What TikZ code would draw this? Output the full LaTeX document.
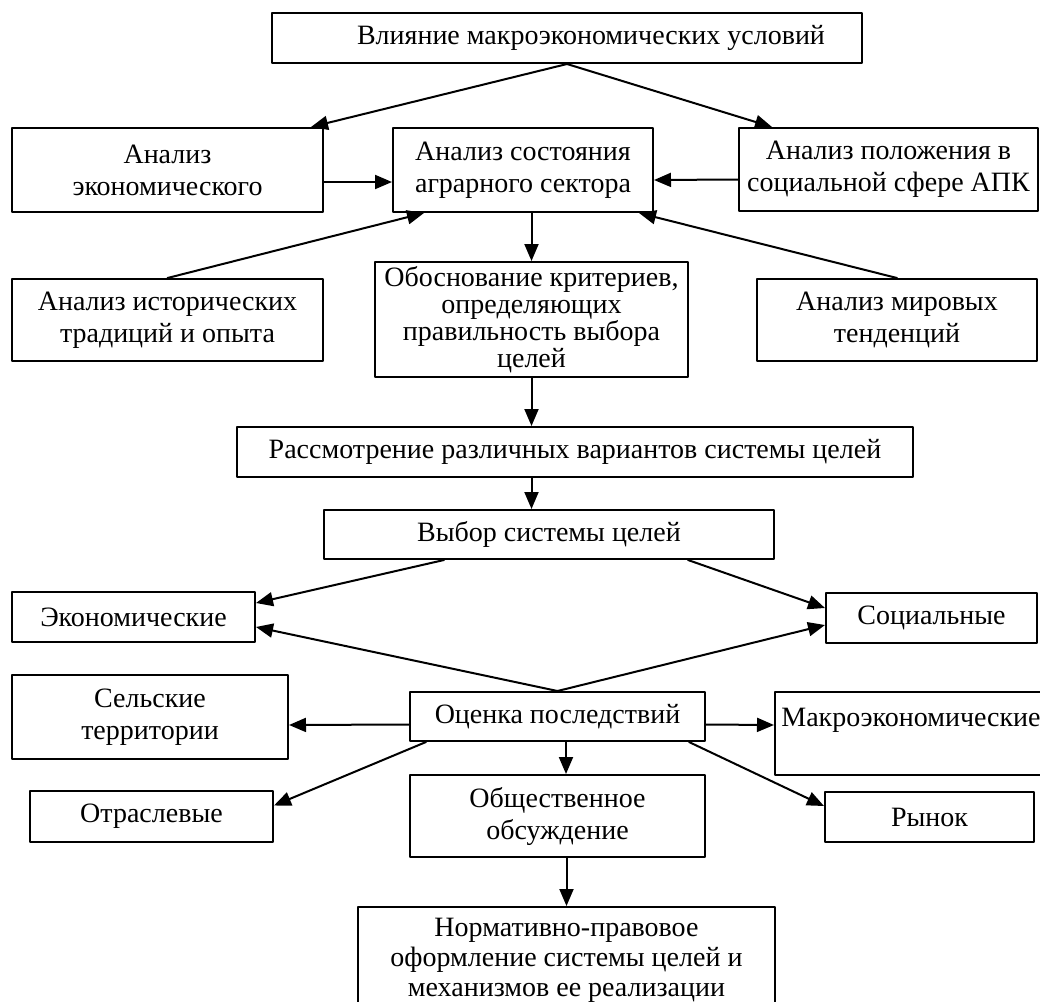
\documentclass[tikz,border=0pt]{standalone}
\usepackage{fontspec}
\setmainfont{Liberation Serif}
\usepackage{xcolor}
\usepackage{tikz}
\usetikzlibrary{shapes.geometric, arrows.meta}
\tikzstyle{box} = [draw, line width=1pt, align=center, inner sep=2pt, font=\fontsize{14}{16}\selectfont]
\tikzstyle{arrow} = [line width=1pt,-{Triangle[length=8.5pt,width=7pt]}]

\begin{document}
\begin{tikzpicture}[line cap=round,line join=round,x=0.5pt,y=-0.5pt]
    \useasboundingbox (0,0) rectangle (1040,1002);
    \node[box, minimum width=295pt, minimum height=25pt] (vlij) at (567,38) {\hspace*{24pt}Влияние макроэкономических условий};
    \node[box, minimum width=155.5pt, minimum height=42pt] (econ) at (167.5,170) {Анализ\\экономического};
    \node[box, minimum width=130pt, minimum height=42pt] (agr) at (523,170) {Анализ состояния\\аграрного сектора};
    \node[box, minimum width=149.5pt, minimum height=41.5pt] (soc) at (888.5,169.5) {Анализ положения в\\социальной сфере АПК};
    \node[box, minimum width=155.5pt, minimum height=41pt] (hist) at (167.5,320) {Анализ исторических\\традиций и опыта};
    \node[box, minimum width=156.5pt, minimum height=57.5pt, font=\fontsize{14}{13.5}\selectfont] (obosn) at (531.5,319.5) {Обоснование критериев,\\определяющих\\правильность выбора\\целей};
    \node[box, minimum width=140pt, minimum height=41pt] (mir) at (897,320) {Анализ мировых\\тенденций};
    \node[box, minimum width=338pt, minimum height=25pt] (rassm) at (575,452) {Рассмотрение различных вариантов системы целей};
    \node[box, minimum width=225pt, minimum height=24.5pt] (vybor) at (549,534.5) {Выбор системы целей};
    \node[box, minimum width=121.5pt, minimum height=25pt] (ekon) at (133.5,617) {Экономические};
    \node[box, minimum width=105.5pt, minimum height=25pt] (socz) at (931.5,618) {Социальные};
    \node[box, minimum width=138pt, minimum height=42pt] (selsk) at (150,717) {Сельские\\территории};
    \node[box, minimum width=147.5pt, minimum height=24.5pt] (ocenka) at (557.5,716.5) {Оценка последствий};
    \node[box, minimum width=136pt, minimum height=41.5pt] (makro) at (911,733.5) {Макроэкономические\\~};
    \node[box, minimum width=121.5pt, minimum height=25.5pt] (otrasl) at (151.5,816) {Отраслевые};
    \node[box, minimum width=104.5pt, minimum height=25pt] (rynok) at (929.5,817) {Рынок};
    \node[box, minimum width=147.5pt, minimum height=41pt] (obsch) at (557.5,816) {Общественное\\обсуждение};
    \node[box, minimum width=208.5pt, minimum height=53pt, font=\fontsize{14}{15}\selectfont] (norm) at (566.5,960) {Нормативно-правовое\\оформление системы целей и\\механизмов ее реализации};
    \draw[arrow] (vlij.south) -- ([xshift=-6.5pt]econ.north east);
    \draw[arrow] (vlij.south) -- ([xshift=17pt]soc.north west);
    \draw[arrow] ([yshift=-6pt]econ.east) -- ([yshift=-6pt]agr.west);
    \draw[arrow] ([yshift=-5pt]soc.west) -- ([yshift=-5pt]agr.east);
    \draw[arrow] (hist.north) -- ([xshift=16pt]agr.south west);
    \draw[arrow] (mir.north) -- ([xshift=-7.5pt]agr.south east);
    \draw[arrow] (agr.south -| obosn.north) -- (obosn.north);
    \draw[arrow] (obosn.south) -- (rassm.north -| obosn.south);
    \draw[arrow] (rassm.south -| obosn.south) -- (vybor.north -| obosn.south);
    \draw[arrow] ([xshift=60.5pt]vybor.south west) -- ([yshift=7pt]ekon.east);
    \draw[arrow] ([xshift=-43.5pt]vybor.south east) -- ([yshift=5pt]socz.west);
    \draw[arrow] (ocenka.north) -- ([yshift=-5pt]ekon.east);
    \draw[arrow] (ocenka.north) -- ([yshift=-3.5pt]socz.west);
    \draw[arrow] ([yshift=-4pt]ocenka.west) -- ([yshift=-4pt]selsk.east);
    \draw[arrow] ([yshift=-4pt]ocenka.east) -- ([yshift=4.25pt]makro.west);
    \draw[arrow] ([xshift=8.5pt]ocenka.south west) -- ([yshift=-8pt]otrasl.north east);
    \draw[arrow] ([xshift=-8.5pt]ocenka.south east) -- ([yshift=-7.5pt]rynok.north west);
    \draw[arrow] ([xshift=4.25pt]ocenka.south) -- ([xshift=4.25pt]obsch.north);
    \draw[arrow] (obsch.south -| norm.north) -- (norm.north);
\end{tikzpicture}
\end{document}
